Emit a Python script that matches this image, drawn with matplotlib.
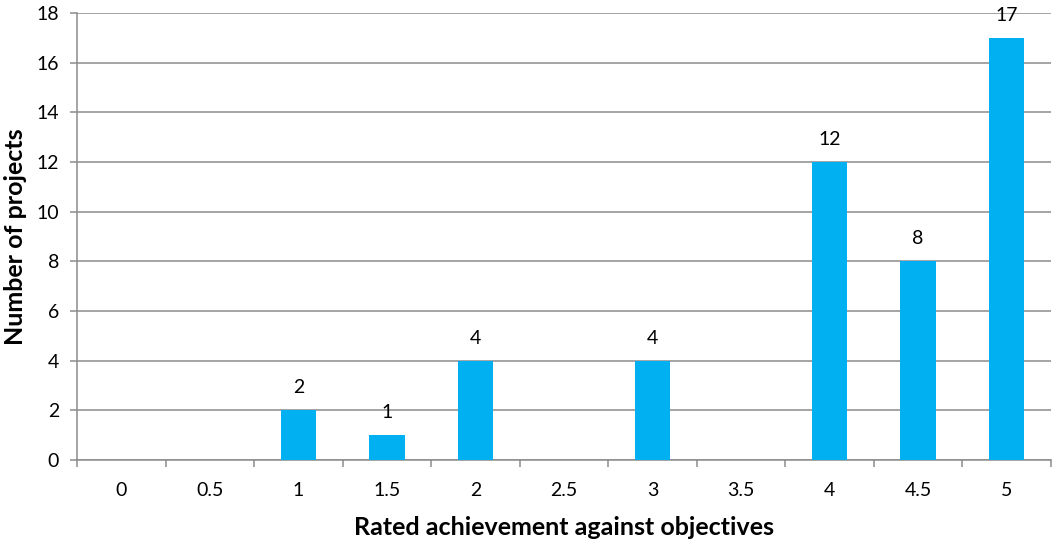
import matplotlib
matplotlib.use("Agg")
import matplotlib.pyplot as plt
import numpy as np

ratings = ["0", "0.5", "1", "1.5", "2", "2.5", "3", "3.5", "4", "4.5", "5"]
projects = [0, 0, 2, 1, 4, 0, 4, 0, 12, 8, 17]
y_ticks = [0, 2, 4, 6, 8, 10, 12, 14, 16, 18]

plt.rcParams['font.family'] = ['Lato', 'DejaVu Sans']

grid_color = "#8c8c8c"
bar_color = "#00b0f0"

fig = plt.figure(figsize=(10.52, 5.39), dpi=100)
ax = fig.add_axes([0.0732, 0.1466, 0.9258, 0.8293])

x = np.arange(len(ratings))
bars = ax.bar(x, projects, width=0.4, color=bar_color, zorder=3)

for xi, v in zip(x, projects):
    if v > 0:
        ax.annotate(str(v), (xi, v), xytext=(0, 10), textcoords="offset points",
                    ha="center", va="bottom", fontsize=14, color="black", zorder=4)

ax.set_xlim(-0.5, len(ratings) - 0.5)
ax.set_ylim(0, 18)
ax.set_yticks(y_ticks)
ax.set_xticks(x)
ax.set_xticklabels(ratings)
ax.set_xticks(np.arange(len(ratings) + 1) - 0.5, minor=True)

ax.yaxis.grid(True, color=grid_color, linewidth=1.1, zorder=0)
ax.set_axisbelow(True)

for side in ("top", "right"):
    ax.spines[side].set_visible(False)
for side in ("left", "bottom"):
    ax.spines[side].set_color(grid_color)
    ax.spines[side].set_linewidth(1.1)

ax.tick_params(axis="y", which="major", length=5, width=1.1, color=grid_color,
               labelsize=14, pad=8)
ax.tick_params(axis="x", which="major", length=0, labelsize=14, pad=16)
ax.tick_params(axis="x", which="minor", length=5, width=1.1, color=grid_color)

ax.set_xlabel("Rated achievement against objectives", fontsize=18, fontweight="bold", labelpad=12)
ax.set_ylabel("Number of projects", fontsize=18, fontweight="bold", labelpad=7)

fig.savefig("out.png", dpi=100)
